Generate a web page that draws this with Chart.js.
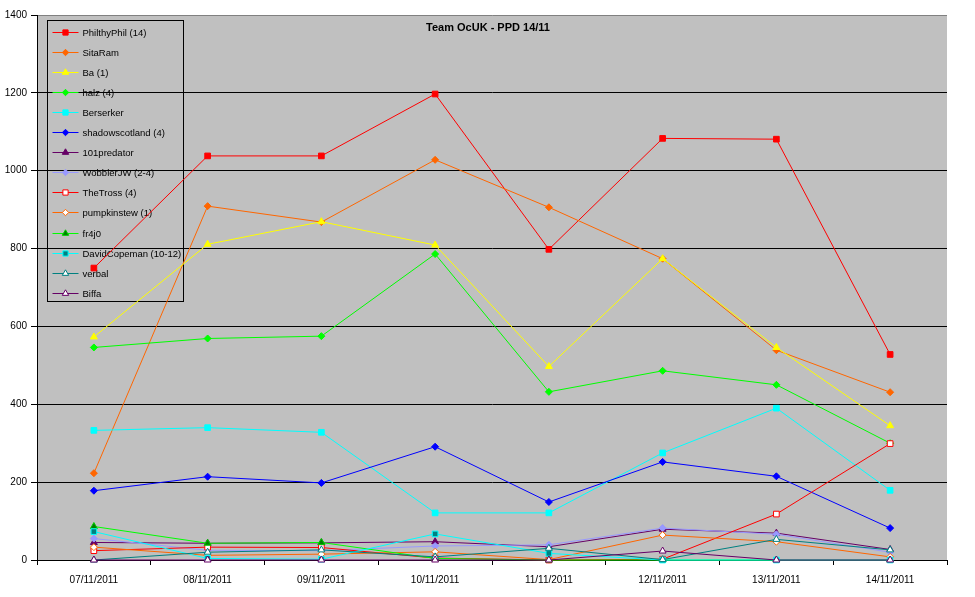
<!DOCTYPE html>
<html>
<head>
<meta charset="utf-8">
<script src="https://cdn.jsdelivr.net/npm/chart.js@4/dist/chart.umd.min.js"></script>
<style>
html,body{margin:0;padding:0;background:#ffffff;}
#wrap{width:975px;height:597px;position:relative;}
</style>
</head>
<body>
<div id="wrap"><canvas id="c" width="975" height="597"></canvas></div>
<script>
// ---- data ----
const categories = ["07/11/2011","08/11/2011","09/11/2011","10/11/2011","11/11/2011","12/11/2011","13/11/2011","14/11/2011"];
const seriesNames = ["PhilthyPhil (14)","SitaRam","Ba (1)","halz (4)","Berserker","shadowscotland (4)","101predator","WobblerJW (2-4)","TheTross (4)","pumpkinstew (1)","fr4j0","DavidCopeman (10-12)","verbal","Biffa"];
const PhilthyPhil    = [750, 1038, 1038, 1197, 798, 1083, 1081, 528];
const SitaRam        = [223, 909, 868, 1028, 906, 774, 539, 431];
const Ba             = [573, 811, 869, 809, 497, 774, 546, 345];
const halz           = [546, 569, 575, 786, 432, 486, 450, 300];
const Berserker      = [333, 340, 328, 121, 121, 275, 390, 179];
const shadowscotland = [178, 214, 198, 291, 149, 252, 215, 82];
const predator101    = [45, 43, 44, 47, 34, 79, 69, 27];
const WobblerJW      = [55, 25, 24, 36, 39, 82, 66, 20];
const TheTross       = [24, 33, 32, 5, 0, 2, 118, 299];
const pumpkinstew    = [33, 12, 15, 21, 1, 64, 47, 8];
const fr4j0          = [86, 43, 45, 4, 0, 0, 0, 0];
const DavidCopeman   = [73, 4, 2, 67, 17, 0, 0, 0];
const verbal         = [0, 20, 26, 8, 30, 1, 53, 26];
const Biffa          = [0, 0, 0, 0, 0, 23, 0, 0];
const yTickValues    = [0, 200, 400, 600, 800, 1000, 1200, 1400];
const chartTitle     = "Team OcUK - PPD 14/11";

const seriesValues = [PhilthyPhil, SitaRam, Ba, halz, Berserker, shadowscotland, predator101, WobblerJW, TheTross, pumpkinstew, fr4j0, DavidCopeman, verbal, Biffa];

// ---- styles ----
const styles = [
  {line:"#FF0000", fill:"#FF0000", stroke:"#FF0000", shape:"rect", r:4},
  {line:"#FF6600", fill:"#FF6600", stroke:"#FF6600", shape:"rectRot", r:3.5},
  {line:"#FFFF00", fill:"#FFFF00", stroke:"#FFFF00", shape:"triangle", r:4},
  {line:"#00FF00", fill:"#00FF00", stroke:"#00FF00", shape:"rectRot", r:3.5},
  {line:"#00FFFF", fill:"#00FFFF", stroke:"#00FFFF", shape:"rect", r:4},
  {line:"#0000FF", fill:"#0000FF", stroke:"#0000FF", shape:"rectRot", r:3.5},
  {line:"#660066", fill:"#660066", stroke:"#660066", shape:"triangle", r:4},
  {line:"#9999FF", fill:"#9999FF", stroke:"#9999FF", shape:"rectRot", r:3.5},
  {line:"#FF0000", fill:"#FFFFFF", stroke:"#FF0000", shape:"rect", r:4},
  {line:"#FF6600", fill:"#FFFFFF", stroke:"#FF6600", shape:"rectRot", r:3.5},
  {line:"#00FF00", fill:"#008000", stroke:"#00CC00", shape:"triangle", r:4},
  {line:"#00FFFF", fill:"#008080", stroke:"#00FFFF", shape:"rect", r:4},
  {line:"#008080", fill:"#FFFFFF", stroke:"#008080", shape:"triangle", r:4},
  {line:"#660066", fill:"#FFFFFF", stroke:"#660066", shape:"triangle", r:4}
];

const FONT = "'Liberation Sans', Arial, sans-serif";
const N = seriesNames.length;

const datasets = seriesNames.map((name, i) => ({
  label: name,
  data: seriesValues[i],
  borderColor: styles[i].line,
  backgroundColor: styles[i].fill,
  borderWidth: 1,
  pointStyle: styles[i].shape,
  pointRadius: styles[i].r,
  pointBackgroundColor: styles[i].fill,
  pointBorderColor: styles[i].stroke,
  pointBorderWidth: 1,
  tension: 0,
  fill: false,
  clip: false,
  order: N - 1 - i
}));

function drawMarker(ctx, shape, x, y, r, fill, stroke) {
  ctx.beginPath();
  if (shape === 'rect') {
    const s = r * Math.SQRT1_2;
    ctx.rect(x - s, y - s, 2 * s, 2 * s);
  } else if (shape === 'rectRot') {
    ctx.moveTo(x, y - r); ctx.lineTo(x + r, y); ctx.lineTo(x, y + r); ctx.lineTo(x - r, y); ctx.closePath();
  } else {
    ctx.moveTo(x, y - r);
    ctx.lineTo(x + 0.866 * r, y + 0.5 * r);
    ctx.lineTo(x - 0.866 * r, y + 0.5 * r);
    ctx.closePath();
  }
  ctx.fillStyle = fill; ctx.fill();
  ctx.strokeStyle = stroke; ctx.lineWidth = 1; ctx.stroke();
}

const bgPlugin = {
  id: 'plotBg',
  beforeDraw(chart) {
    const {ctx, chartArea: a} = chart;
    ctx.save();
    ctx.fillStyle = '#C0C0C0';
    ctx.fillRect(a.left, a.top, a.right - a.left, a.bottom - a.top);
    ctx.restore();
  }
};

const legendPlugin = {
  id: 'insideLegend',
  beforeDatasetsDraw(chart) {
    const {ctx, chartArea: a} = chart;
    ctx.save();
    // title
    ctx.fillStyle = '#000';
    ctx.font = "bold 11px " + FONT;
    ctx.textAlign = 'center';
    ctx.textBaseline = 'middle';
    ctx.fillText(chartTitle, (a.left + a.right) / 2 - 4, a.top + 13);
    // legend box
    const bx = Math.round(a.left + 10) + 0.5, by = Math.round(a.top + 5) + 0.5;
    const bw = 136, bh = 281;
    ctx.strokeStyle = '#000'; ctx.lineWidth = 1;
    ctx.strokeRect(bx, by, bw, bh);
    ctx.font = "9.5px " + FONT;
    ctx.textAlign = 'left';
    const ds = chart.data.datasets;
    for (let i = 0; i < ds.length; i++) {
      const y = Math.round(by + 11.5 + i * 20.05) + 0.5;
      ctx.beginPath();
      ctx.moveTo(bx + 5, y); ctx.lineTo(bx + 31, y);
      ctx.strokeStyle = ds[i].borderColor; ctx.lineWidth = 1; ctx.stroke();
      drawMarker(ctx, ds[i].pointStyle, bx + 18, y, ds[i].pointRadius - 0.3, ds[i].pointBackgroundColor, ds[i].pointBorderColor);
      ctx.fillStyle = '#000';
      ctx.fillText(ds[i].label, bx + 35, y + 0.5);
    }
    ctx.restore();
  }
};

new Chart(document.getElementById('c'), {
  type: 'line',
  data: { labels: categories, datasets: datasets },
  options: {
    responsive: false,
    animation: false,
    devicePixelRatio: 1,
    layout: { padding: { top: 15, right: 28, left: 0, bottom: 0 } },
    plugins: { legend: { display: false }, tooltip: { enabled: false }, title: { display: false } },
    elements: { line: { borderWidth: 1 } },
    scales: {
      x: {
        type: 'category',
        offset: true,
        grid: { offset: true, drawOnChartArea: false, drawTicks: true, tickLength: 5, color: '#000', lineWidth: 1 },
        border: { display: true, color: '#000', width: 1 },
        ticks: { color: '#000', font: { family: FONT, size: 10 }, padding: 9, maxRotation: 0, autoSkip: false },
        afterFit(s) { s.height = 37; }
      },
      y: {
        min: 0, max: 1400,
        afterBuildTicks(s) { s.ticks = yTickValues.map(v => ({ value: v })); },
        grid: {
          color: c => (c.tick && c.tick.value === 1400) ? '#808080' : '#000',
          tickColor: '#000', tickLength: 6, lineWidth: 1, drawTicks: true
        },
        border: { display: true, color: '#000', width: 1 },
        ticks: { color: '#000', font: { family: FONT, size: 10 }, padding: 4, callback: v => String(v) },
        afterFit(s) { s.width = 37; }
      }
    }
  },
  plugins: [bgPlugin, legendPlugin]
});
</script>
</body>
</html>
